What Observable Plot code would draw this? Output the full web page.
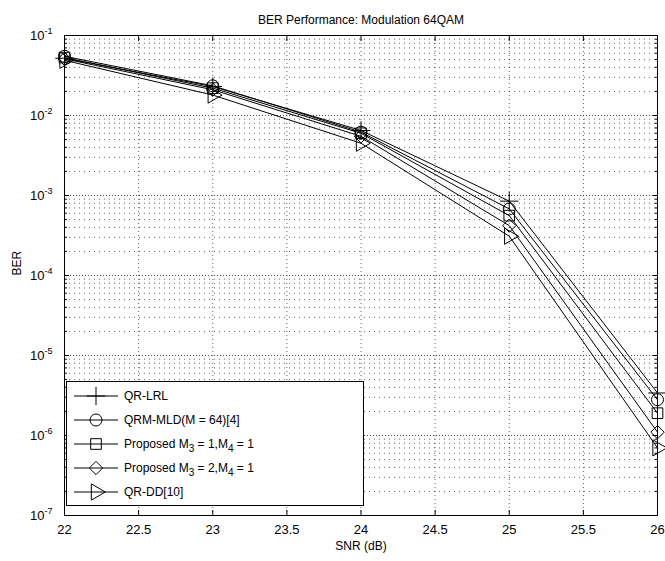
<!DOCTYPE html>
<html><head><meta charset="utf-8">
<script src="https://cdn.jsdelivr.net/npm/d3@7"></script>
<script src="https://cdn.jsdelivr.net/npm/@observablehq/plot@0.6"></script>
<style>
body{margin:0;background:#fff;font-family:"Liberation Sans",Arial,sans-serif;}
#wrap{position:relative;width:665px;height:561px;}
#legend{position:absolute;left:66px;top:381px;width:298px;height:125px;border:1px solid #000;background:#fff;font-size:12px;color:#000;box-sizing:border-box;padding-top:2px;}
#legend .row{height:24px;display:flex;align-items:center;white-space:nowrap;}
#legend svg{display:block;margin-left:5px;margin-right:4px;}
#legend sub{font-size:10px;vertical-align:-4px;line-height:0;}
</style></head><body><div id="wrap"></div>
<script>
const title = "BER Performance: Modulation 64QAM";
const xLabel = "SNR (dB)";
const yLabel = "BER";
const snr = [22, 23, 24, 25, 26];
const seriesNames = ["QR-LRL", "QRM-MLD(M = 64)[4]", "Proposed M3 = 1,M4 = 1", "Proposed M3 = 2,M4 = 1", "QR-DD[10]"];
const berQrLrl  = [0.052, 0.023,  0.0065, 8.5e-4, 3.4e-6];
const berQrmMld = [0.055, 0.0235, 0.0062, 6.8e-4, 2.8e-6];
const berProp1  = [0.053, 0.022,  0.0060, 5.6e-4, 1.9e-6];
const berProp2  = [0.051, 0.021,  0.0055, 4.2e-4, 1.1e-6];
const berQrDd   = [0.049, 0.018,  0.0045, 3.1e-4, 7.0e-7];
const seriesValues = [berQrLrl, berQrmMld, berProp1, berProp2, berQrDd];
const seriesSymbols = ["plus", "circle", "square", "diamond2", "triangle"];
const seriesRotate = [0, 0, 0, 0, 90];
const xTicks = [22, 22.5, 23, 23.5, 24, 24.5, 25, 25.5, 26];
const yDecades = [1e-7, 1e-6, 1e-5, 1e-4, 1e-3, 1e-2, 1e-1];

const yMinor = [];
yDecades.slice(0, -1).forEach(d => { for (let k = 2; k <= 9; k++) yMinor.push(+(k * d).toPrecision(3)); });

const rows = [];
seriesNames.forEach((name, s) => snr.forEach((x, i) => rows.push({series: name, s, snr: x, ber: seriesValues[s][i]})));

const marks = [
  Plot.gridY(yMinor, {stroke: "#000", strokeOpacity: 0.6, strokeDasharray: "1,4"}),
  Plot.gridY(yDecades, {stroke: "#000", strokeOpacity: 0.7, strokeDasharray: "1,2"}),
  Plot.gridX(xTicks, {stroke: "#000", strokeOpacity: 0.6, strokeDasharray: "1,3"}),
  Plot.axisX(xTicks, {anchor: "bottom", tickSize: -5, fill: "none", label: null}),
  Plot.axisX(xTicks, {anchor: "top", tickSize: -5, fill: "none", label: null}),
  Plot.axisX(xTicks, {anchor: "bottom", tickSize: 0, tickPadding: 9, stroke: "none", label: null, fontSize: 13, tickFormat: d => String(d)}),
  Plot.axisY(yDecades, {anchor: "left", tickSize: -5, fill: "none", label: null}),
  Plot.axisY(yDecades, {anchor: "right", tickSize: -5, fill: "none", label: null}),
  Plot.axisY(yMinor, {anchor: "left", tickSize: -3, fill: "none", label: null}),
  Plot.axisY(yMinor, {anchor: "right", tickSize: -3, fill: "none", label: null}),
  Plot.axisY(yDecades, {anchor: "left", tickSize: 0, tickPadding: 12, stroke: "none", label: null, fontSize: 13, tickFormat: d => "10^" + Math.round(Math.log10(d))}),
  Plot.frame({stroke: "#000"}),
  Plot.line(rows, {x: "snr", y: "ber", z: "series", stroke: "#000", strokeWidth: 1}),
  ...seriesNames.map((name, s) => Plot.dot(rows.filter(r => r.s === s), {x: "snr", y: "ber", symbol: () => seriesSymbols[s], r: 6, stroke: "#000", strokeWidth: 1, fill: "none", rotate: seriesRotate[s]})),
  Plot.text([title], {frameAnchor: "top", dy: -20, fontSize: 12, fill: "#000"}),
  Plot.text([xLabel], {frameAnchor: "bottom", dy: 34, fontSize: 12, fill: "#000"}),
  Plot.text([yLabel], {frameAnchor: "left", dx: -47, rotate: -90, fontSize: 12, fill: "#000"})
];

const chart = Plot.plot({
  width: 665, height: 561,
  marginLeft: 64, marginRight: 8, marginTop: 35, marginBottom: 46,
  style: {fontFamily: "'Liberation Sans', Arial, sans-serif", fontSize: "12px", color: "#000", background: "#fff"},
  x: {domain: [22, 26], axis: null},
  y: {type: "log", domain: [1e-7, 1e-1], axis: null},
  symbol: {type: "identity"},
  marks
});
document.getElementById("wrap").appendChild(chart);

// superscript exponents on y tick labels
d3.select(chart).selectAll("text").each(function() {
  const t = this.textContent;
  if (/^10\^-?\d+$/.test(t)) {
    const [b, e] = t.split("^");
    const sel = d3.select(this);
    sel.text(b);
    sel.append("tspan").attr("dy", "-0.6em").attr("font-size", "9px").text(e);
  }
});

// legend
const lg = d3.select("#wrap").append("div").attr("id", "legend");
const symMap = {plus: d3.symbolPlus, circle: d3.symbolCircle, square: d3.symbolSquare, diamond2: d3.symbolDiamond2, triangle: d3.symbolTriangle};
seriesNames.forEach((name, s) => {
  const row = lg.append("div").attr("class", "row");
  const sv = row.append("svg").attr("width", 48).attr("height", 20);
  sv.append("line").attr("x1", 2).attr("x2", 46).attr("y1", 10).attr("y2", 10).attr("stroke", "#000");
  sv.append("path").attr("d", d3.symbol(symMap[seriesSymbols[s]], Math.PI * 36)())
    .attr("transform", `translate(24,10) rotate(${seriesRotate[s]})`)
    .attr("fill", "none").attr("stroke", "#000");
  row.append("span").html(name.replace(/M(\d)/g, "M<sub>$1</sub>"));
});
</script></body></html>
